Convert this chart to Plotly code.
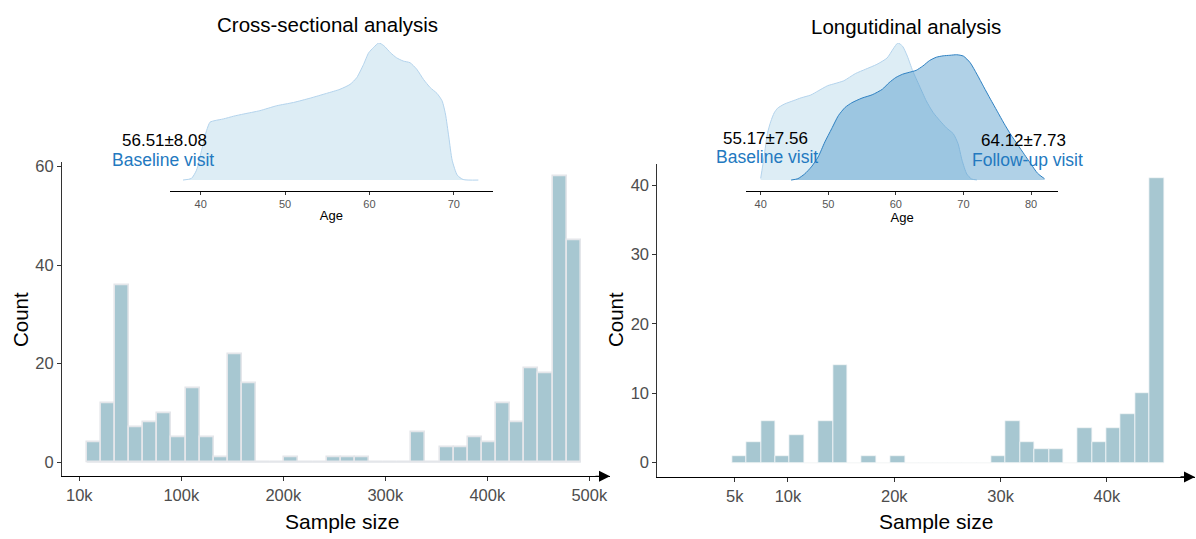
import plotly.graph_objects as go

# ---------------- data ----------------
# Cross-sectional histogram (35 bins of sample size)
cs_bin_start = 7250
cs_bin_width = 13840
cs_counts = [4, 12, 36, 7, 8, 10, 5, 15, 5, 1, 22, 16, 0, 0, 1, 0, 0, 1, 1, 1,
             0, 0, 0, 6, 0, 3, 3, 5, 4, 12, 8, 19, 18, 58, 45]
cs_tickvals = [0, 100000, 200000, 300000, 400000, 500000]
cs_ticktext = ["10k", "100k", "200k", "300k", "400k", "500k"]

# Longitudinal histogram (30 bins of sample size)
lg_bin_start = 4750
lg_bin_width = 1354
lg_counts = [1, 3, 6, 1, 4, 0, 6, 14, 0, 1, 0, 1, 0, 0, 0, 0, 0, 0, 1, 6,
             3, 2, 2, 0, 5, 3, 5, 7, 10, 41]
lg_tickvals = [5000, 10000, 20000, 30000, 40000]
lg_ticktext = ["5k", "10k", "20k", "30k", "40k"]

# Age densities
cs_age = [37.9, 38.9, 39.5, 40.1, 40.7, 41.1, 41.7, 42.7, 43.9, 45.1, 47.0, 49.0,
          51.0, 53.0, 54.9, 56.5, 57.7, 58.5, 59.3, 59.9, 60.5, 61.1, 61.7, 62.5,
          63.2, 64.0, 64.8, 65.6, 66.4, 67.2, 68.0, 68.6, 69.0, 69.4, 69.8, 70.4,
          71.1, 72.9]
cs_dens = [0.0000, 0.0006, 0.0036, 0.0108, 0.0181, 0.0211, 0.0217, 0.0223, 0.0233,
           0.0241, 0.0253, 0.0271, 0.0283, 0.0299, 0.0316, 0.0331, 0.0349, 0.0374,
           0.0422, 0.0464, 0.0484, 0.0500, 0.0490, 0.0464, 0.0446, 0.0434, 0.0428,
           0.0404, 0.0367, 0.0337, 0.0316, 0.0289, 0.0241, 0.0157, 0.0072, 0.0018,
           0.0002, 0.0000]

bl_age = [40.0, 40.5, 41.0, 41.5, 42.0, 42.5, 43.5, 44.9, 46.0, 47.4, 48.5, 49.9,
          51.0, 52.3, 54.0, 55.5, 57.2, 58.7, 59.6, 60.3, 61.0, 61.7, 62.5, 63.5,
          64.5, 65.5, 66.5, 67.5, 68.5, 69.2, 69.8, 70.5, 71.2, 72.0]
bl_dens = [0.0006, 0.0084, 0.0170, 0.0214, 0.0245, 0.0262, 0.0277, 0.0290, 0.0300,
           0.0310, 0.0325, 0.0344, 0.0352, 0.0362, 0.0388, 0.0404, 0.0422, 0.0445,
           0.0478, 0.0500, 0.0488, 0.0452, 0.0398, 0.0343, 0.0289, 0.0247, 0.0217,
           0.0190, 0.0169, 0.0133, 0.0072, 0.0022, 0.0004, 0.0000]

fu_age = [44.5, 45.5, 46.5, 47.5, 48.5, 49.5, 50.5, 51.5, 52.5, 53.5, 55.0, 56.5,
          58.0, 59.0, 60.0, 61.0, 62.0, 63.0, 64.0, 65.0, 66.0, 67.0, 68.0, 69.0,
          70.0, 71.0, 72.0, 73.0, 74.0, 75.0, 76.0, 77.0, 78.0, 79.0, 80.0, 81.0, 82.0]
fu_dens = [0.0000, 0.0005, 0.0022, 0.0048, 0.0084, 0.0139, 0.0187, 0.0235, 0.0265,
           0.0282, 0.0299, 0.0311, 0.0331, 0.0355, 0.0374, 0.0386, 0.0393, 0.0400,
           0.0416, 0.0436, 0.0448, 0.0453, 0.0455, 0.0457, 0.0452, 0.0428, 0.0386,
           0.0340, 0.0295, 0.0251, 0.0207, 0.0166, 0.0130, 0.0094, 0.0058, 0.0024,
           0.0005]

cs_stat = "56.51±8.08"
bl_stat = "55.17±7.56"
fu_stat = "64.12±7.73"

# ---------------- style ----------------
W, H = 1196, 539
FONT = "Liberation Sans"
BAR_FILL = "#a7c7d1"
TICK_GRAY = "#4d4d4d"
BLUE_TXT = "#2379c0"
BL_FILL = "rgba(158,202,225,0.35)"
BL_LINE = "#b3d3ec"
FU_FILL = "rgba(66,146,198,0.42)"
FU_LINE = "#2e80c2"


def px(x):
    return x / W


def py(y):
    return 1 - y / H


def centers(start, width, n):
    return [start + width * (i + 0.5) for i in range(n)]


fig = go.Figure()

# zero baseline for left histogram (outlines of empty bins)
fig.add_trace(go.Scatter(
    x=[cs_bin_start, cs_bin_start + cs_bin_width * len(cs_counts)], y=[0, 0],
    mode="lines", line=dict(color="#e4e6ea", width=1.5),
    xaxis="x", yaxis="y", hoverinfo="skip", showlegend=False))

fig.add_trace(go.Bar(
    x=centers(cs_bin_start, cs_bin_width, len(cs_counts)), y=cs_counts,
    width=cs_bin_width, marker=dict(color=BAR_FILL, line=dict(color="#e4e6ea", width=1.6)),
    xaxis="x", yaxis="y", showlegend=False))

fig.add_trace(go.Bar(
    x=centers(lg_bin_start, lg_bin_width, len(lg_counts)), y=lg_counts,
    width=lg_bin_width, marker=dict(color=BAR_FILL, line=dict(color="#f4f6f8", width=0.8)),
    xaxis="x2", yaxis="y2", showlegend=False))

# insets
fig.add_trace(go.Scatter(
    x=cs_age, y=cs_dens, mode="lines", fill="tozeroy", fillcolor=BL_FILL,
    line=dict(color=BL_LINE, width=1, shape="spline", smoothing=0.6),
    xaxis="x3", yaxis="y3", showlegend=False))

fig.add_trace(go.Scatter(
    x=bl_age, y=bl_dens, mode="lines", fill="tozeroy", fillcolor=BL_FILL,
    line=dict(color=BL_LINE, width=1, shape="spline", smoothing=0.6),
    xaxis="x4", yaxis="y4", showlegend=False))

fig.add_trace(go.Scatter(
    x=fu_age, y=fu_dens, mode="lines", fill="tozeroy", fillcolor=FU_FILL,
    line=dict(color=FU_LINE, width=1, shape="spline", smoothing=0.6),
    xaxis="x4", yaxis="y4", showlegend=False))

main_tick = dict(ticks="outside", ticklen=4, tickwidth=1, tickcolor="#333333",
                 tickfont=dict(family=FONT, size=16.5, color=TICK_GRAY),
                 showgrid=False, zeroline=False, showline=True, linewidth=1)

inset_x = dict(ticks="outside", ticklen=3, tickwidth=1, tickcolor="#333333",
               tickfont=dict(family=FONT, size=11, color="#555555"),
               showgrid=False, zeroline=False, showline=True, linewidth=1.2,
               linecolor="black",
               title=dict(text="Age", font=dict(family=FONT, size=13, color="black"),
                          standoff=2))

inset_y = dict(visible=False, showgrid=False, zeroline=False)

cs_xr = [-16960, 520300]
cs_yr = [-2.9, 60.9]
lg_xr = [-2295, 48290]
lg_yr = [-2.05, 43.05]

fig.update_layout(
    width=W, height=H, margin=dict(l=0, r=0, t=0, b=0),
    paper_bgcolor="white", plot_bgcolor="rgba(0,0,0,0)",
    bargap=0, showlegend=False,
    font=dict(family=FONT),
    xaxis=dict(domain=[px(62), px(610)], range=cs_xr, tickvals=cs_tickvals,
               ticktext=cs_ticktext, anchor="y", linecolor="black", **main_tick),
    yaxis=dict(domain=[py(475.7), py(158.6)], range=cs_yr, tickvals=[0, 20, 40, 60],
               anchor="x", linecolor="#333333", **main_tick),
    xaxis2=dict(domain=[px(657.3), px(1195)], range=lg_xr, tickvals=lg_tickvals,
                ticktext=lg_ticktext, anchor="y2", linecolor="black", **main_tick),
    yaxis2=dict(domain=[py(476.3), py(160.6)], range=lg_yr, tickvals=[0, 10, 20, 30, 40],
                anchor="x2", linecolor="#333333", **main_tick),
    xaxis3=dict(domain=[px(170), px(492.7)], range=[36.36, 74.6],
                tickvals=[40, 50, 60, 70], anchor="y3", **inset_x),
    yaxis3=dict(domain=[py(187.3), py(38.3)], range=[-0.00383, 0.05], anchor="x3", **inset_y),
    xaxis4=dict(domain=[px(746), px(1058.3)], range=[37.83, 84.04],
                tickvals=[40, 50, 60, 70, 80], anchor="y4", **inset_x),
    yaxis4=dict(domain=[py(187.3), py(38.3)], range=[-0.00383, 0.05], anchor="x4", **inset_y),
)

ann = []


def text(x, y, s, size, color="black", angle=0):
    ann.append(dict(x=px(x), y=py(y), xref="paper", yref="paper", text=s,
                    showarrow=False, xanchor="center", yanchor="middle",
                    textangle=angle, font=dict(family=FONT, size=size, color=color)))


text(327.5, 20, "Cross-sectional analysis", 20.5)
text(905.7, 21.5, "Longutidinal analysis", 20.5)
text(342, 521, "Sample size", 21)
text(935.5, 521, "Sample size", 21)
text(20, 318, "Count", 20.5, angle=-90)
text(615, 318, "Count", 20.5, angle=-90)
text(164, 136.5, cs_stat, 17)
text(163.3, 156.5, "Baseline visit", 17.5, BLUE_TXT)
text(765, 135, bl_stat, 17)
text(766.7, 153.5, "Baseline visit", 17.5, BLUE_TXT)
text(1023.3, 136.5, fu_stat, 17)
text(1027.7, 156.5, "Follow-up visit", 17.5, BLUE_TXT)

# arrow heads on the x axes
for xa, ya, xr, yr in (("x", "y", cs_xr, cs_yr), ("x2", "y2", lg_xr, lg_yr)):
    ann.append(dict(x=xr[1], y=yr[0], xref=xa, yref=ya, ax=-16, ay=0,
                    axref="pixel", ayref="pixel", text="", showarrow=True,
                    arrowhead=2, arrowsize=2.0, arrowwidth=1.1, arrowcolor="black",
                    standoff=0))

fig.update_layout(annotations=ann)

fig.write_html("out.html")
